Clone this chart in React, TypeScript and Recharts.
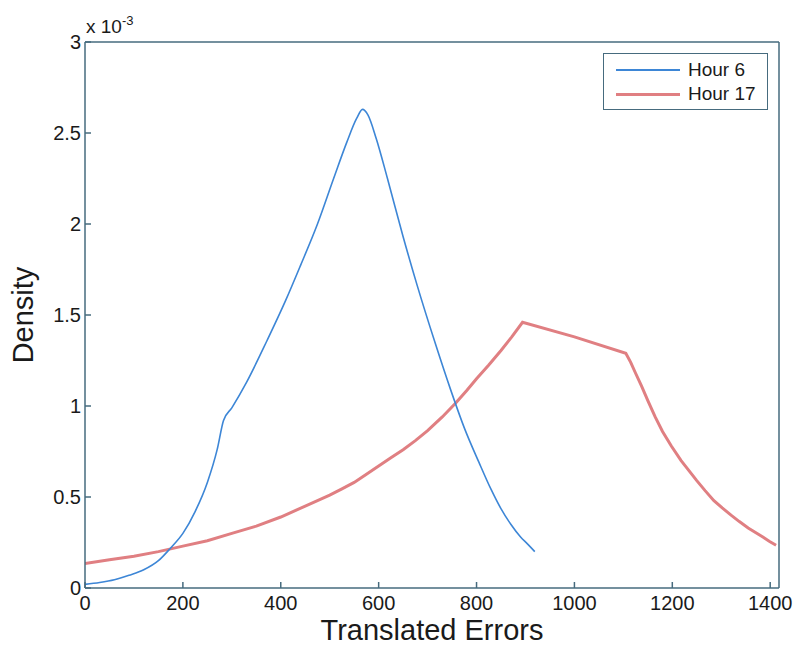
import React from "react";
import { LineChart, Line, XAxis, YAxis, Legend } from "recharts";

// densities are in units of 1e-3
const hour6X = [0, 30, 60, 90, 120, 150, 175, 200, 225, 250, 270, 283, 300, 330, 372, 410, 440, 475, 508, 535, 555, 567, 578, 595, 618, 650, 679, 715, 747, 775, 805, 830, 849, 870, 890, 905, 919];
const hour6Y = [0.02, 0.03, 0.045, 0.07, 0.1, 0.15, 0.22, 0.3, 0.42, 0.58, 0.76, 0.92, 0.99, 1.13, 1.36, 1.58, 1.77, 2.0, 2.25, 2.45, 2.58, 2.63, 2.6, 2.47, 2.25, 1.93, 1.66, 1.35, 1.09, 0.88, 0.69, 0.54, 0.44, 0.35, 0.28, 0.24, 0.2];

const hour17X = [
	0, 50, 100, 150, 200, 250, 300, 350, 400, 450, 475, 500, 525, 550, 575, 600, 625, 650, 675, 700, 730, 757, 780, 800, 825, 850, 872, 894,
	1000, 1105, 1115, 1125, 1137, 1150, 1165, 1180, 1198, 1218, 1234, 1250, 1267, 1285, 1302, 1320, 1337, 1355, 1370, 1385, 1398, 1412,
];
const hour17Y = [
	0.135, 0.155, 0.175, 0.2, 0.23, 0.26, 0.3, 0.34, 0.39, 0.45, 0.48, 0.51, 0.545, 0.58, 0.625, 0.67, 0.715, 0.76, 0.81, 0.865, 0.94, 1.015, 1.085, 1.15, 1.225, 1.305, 1.38, 1.46,
	1.38, 1.29, 1.24, 1.18, 1.11, 1.03, 0.94, 0.86, 0.78, 0.7, 0.645, 0.59, 0.535, 0.48, 0.44, 0.4, 0.365, 0.33, 0.305, 0.28, 0.257, 0.235,
];

const xTicks = [0, 200, 400, 600, 800, 1000, 1200, 1400];
const yTicks = [0, 0.5, 1, 1.5, 2, 2.5, 3];

const hour6 = hour6X.map((x, i) => ({ x, y: hour6Y[i] }));
const hour17 = hour17X.map((x, i) => ({ x, y: hour17Y[i] }));

const axisColor = "#466b7e";
const font = "'Liberation Sans', Arial, sans-serif";
const tickStyle = { fontSize: 20, fill: "#1a1a1a", fontFamily: font };

const renderLegend = () => (
	<div
		style={{
			width: 165,
			height: 57,
			border: `1.5px solid ${axisColor}`,
			background: "#fff",
			fontFamily: font,
			fontSize: 19,
			color: "#1a1a1a",
			boxSizing: "border-box",
			padding: "4px 0 0 12px",
		}}
	>
		{[
			{ name: "Hour 6", color: "#3d86d6", w: 1.6 },
			{ name: "Hour 17", color: "#e07f82", w: 3 },
		].map((d) => (
			<div key={d.name} style={{ display: "flex", alignItems: "center", height: 24 }}>
				<div style={{ width: 64, height: d.w, background: d.color, marginRight: 8 }} />
				<span>{d.name}</span>
			</div>
		))}
	</div>
);

export default function App() {
	return (
		<div style={{ position: "absolute", left: 0, top: 0, width: 794, height: 649, background: "#fff" }}>
			<LineChart
				width={794}
				height={649}
				margin={{ top: 41, right: 14, left: 25, bottom: 21 }}
			>
				<XAxis
					xAxisId="b"
					dataKey="x"
					type="number"
					domain={[0, 1418]}
					ticks={xTicks}
					allowDataOverflow
					height={40}
					tickSize={-6}
					tickMargin={14}
					tick={tickStyle}
					axisLine={{ stroke: axisColor, strokeWidth: 1.5 }}
					tickLine={{ stroke: axisColor, strokeWidth: 1.5 }}
					label={{
						content: () => (
							<text x={432} y={640} textAnchor="middle" fontSize={29} fontFamily={font} fill="#1a1a1a">
								Translated Errors
							</text>
						),
					}}
				/>
				<XAxis
					xAxisId="t"
					orientation="top"
					dataKey="x"
					type="number"
					domain={[0, 1418]}
					ticks={xTicks}
					height={1}
					tickSize={-6}
					tick={false}
					axisLine={{ stroke: axisColor, strokeWidth: 1.5 }}
					tickLine={{ stroke: axisColor, strokeWidth: 1.5 }}
				/>
				<YAxis
					yAxisId="l"
					type="number"
					domain={[0, 3]}
					ticks={yTicks}
					width={60}
					tickSize={-6}
					tickMargin={10}
					tick={tickStyle}
					axisLine={{ stroke: axisColor, strokeWidth: 1.5 }}
					tickLine={{ stroke: axisColor, strokeWidth: 1.5 }}
					label={{
						content: () => (
							<text
								x={33}
								y={315}
								transform="rotate(-90 33 315)"
								textAnchor="middle"
								fontSize={29}
								fontFamily={font}
								fill="#1a1a1a"
							>
								Density
							</text>
						),
					}}
				/>
				<YAxis
					yAxisId="r"
					orientation="right"
					type="number"
					domain={[0, 3]}
					ticks={yTicks}
					width={1}
					tickSize={-6}
					tick={false}
					axisLine={{ stroke: axisColor, strokeWidth: 1.5 }}
					tickLine={{ stroke: axisColor, strokeWidth: 1.5 }}
				/>
				<Legend
					layout="vertical"
					align="center"
					verticalAlign="middle"
					content={renderLegend}
					wrapperStyle={{ left: 603, top: 53, width: 167, height: 59 }}
				/>
				<Line
					xAxisId="b"
					yAxisId="l"
					data={hour17}
					dataKey="y"
					name="Hour 17"
					type="linear"
					stroke="#e07f82"
					strokeWidth={3}
					dot={false}
					isAnimationActive={false}
				/>
				<Line
					xAxisId="b"
					yAxisId="l"
					data={hour6}
					dataKey="y"
					name="Hour 6"
					type="monotone"
					stroke="#3d86d6"
					strokeWidth={1.6}
					dot={false}
					isAnimationActive={false}
				/>
			</LineChart>
			<div
				style={{
					position: "absolute",
					left: 86,
					top: 14,
					fontFamily: font,
					fontSize: 19,
					color: "#1a1a1a",
					lineHeight: 1,
				}}
			>
				x 10<sup style={{ fontSize: 13, verticalAlign: 8 }}>-3</sup>
			</div>
		</div>
	);
}
